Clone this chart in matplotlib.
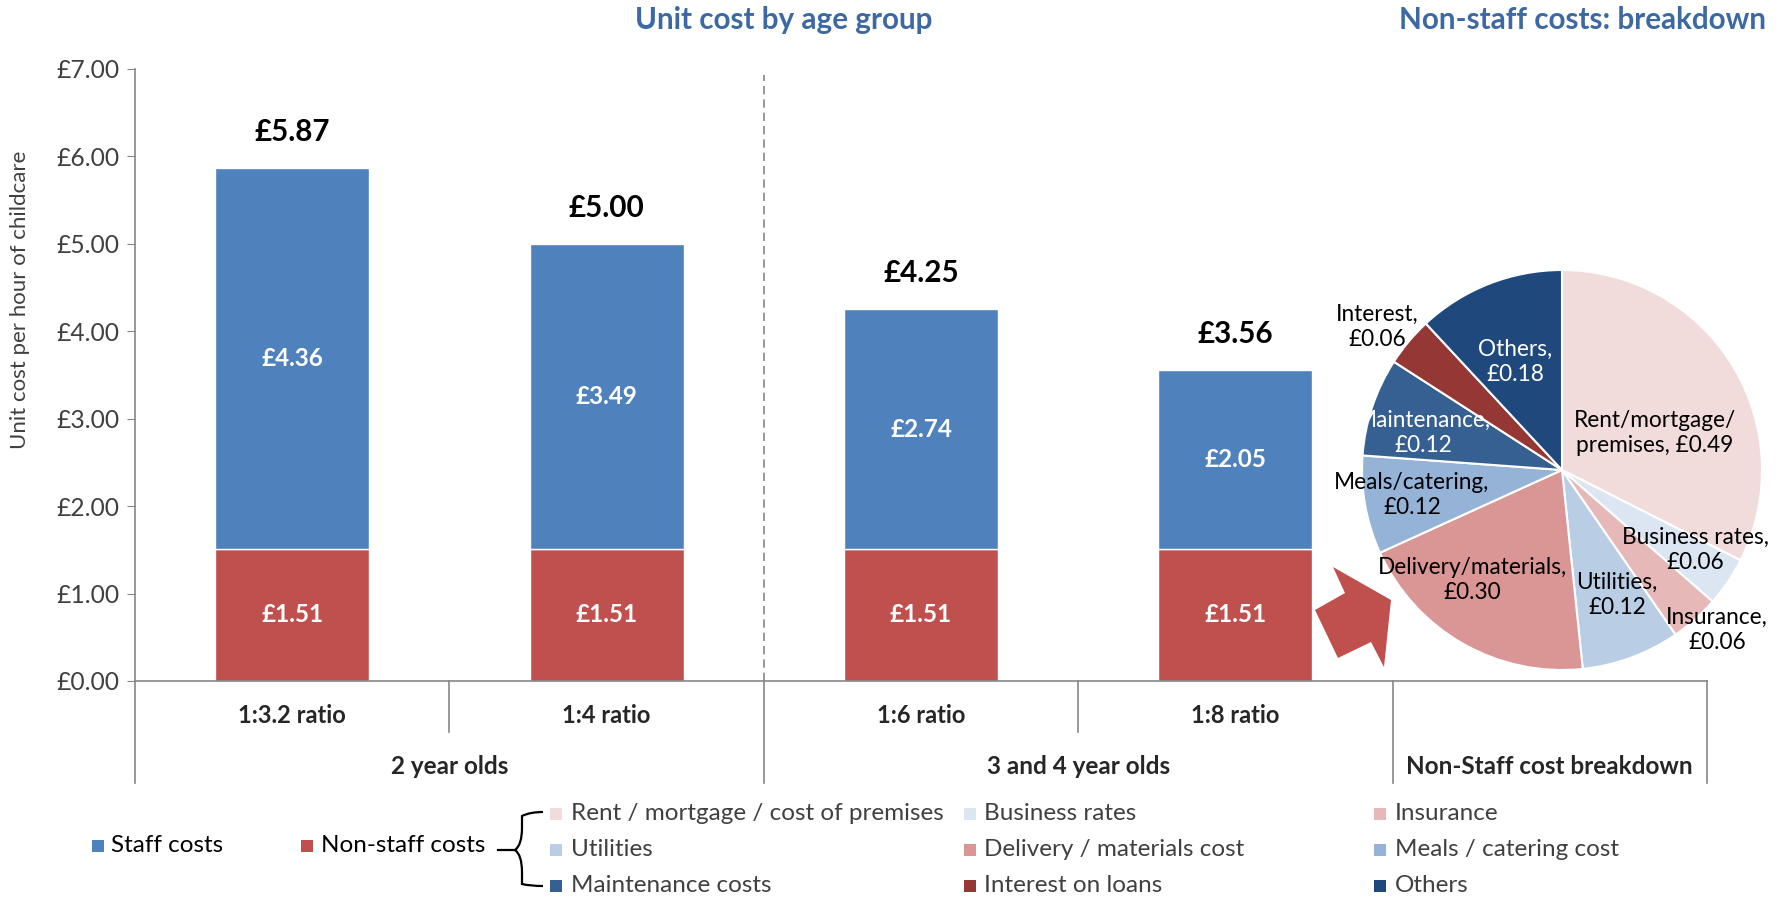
import matplotlib
matplotlib.use("Agg")
import matplotlib.pyplot as plt
from matplotlib.patches import Polygon, Rectangle, PathPatch
from matplotlib.path import Path
from matplotlib.transforms import blended_transform_factory
import numpy as np

plt.rcParams['font.family'] = ['Lato', 'DejaVu Sans']

# bar chart data
ratios = ['1:3.2 ratio', '1:4 ratio', '1:6 ratio', '1:8 ratio']
groups = ['2 year olds', '3 and 4 year olds', 'Non-Staff cost breakdown']
staff = [4.36, 3.49, 2.74, 2.05]
non_staff = [1.51, 1.51, 1.51, 1.51]
totals = [5.87, 5.00, 4.25, 3.56]

# pie data (non-staff breakdown), clockwise from 12 o'clock
pie_labels = ['Rent/mortgage/\npremises, £0.49', 'Business rates,\n£0.06', 'Insurance,\n£0.06',
              'Utilities,\n£0.12', 'Delivery/materials,\n£0.30', 'Meals/catering,\n£0.12',
              'Maintenance,\n£0.12', 'Interest,\n£0.06', 'Others,\n£0.18']
pie_values = [0.49, 0.06, 0.06, 0.12, 0.30, 0.12, 0.12, 0.06, 0.18]
pie_colors = ['#F2DCDB', '#DCE6F2', '#E6B9B8', '#B9CDE5', '#D99694', '#95B3D7',
              '#376092', '#953735', '#1F497D']

legend_names = ['Rent / mortgage / cost of premises', 'Business rates', 'Insurance',
                'Utilities', 'Delivery / materials cost', 'Meals / catering cost',
                'Maintenance costs', 'Interest on loans', 'Others']

STAFF_COL = '#4F81BD'
NONSTAFF_COL = '#C0504D'
TITLE_COL = '#3C69A3'
GREY = '#868686'
TXT = '#404040'

W, H = 1784, 899
fig = plt.figure(figsize=(W / 100, H / 100), dpi=100)

def fx(x):
    return x / W

def fy(y):
    return 1 - y / H

ax = fig.add_axes([fx(135), fy(681), fx(1707) - fx(135), fy(69) - fy(681)])
x = np.arange(len(ratios))
bw = 0.49
ax.bar(x, non_staff, bw, color=NONSTAFF_COL, edgecolor='white', linewidth=1)
ax.bar(x, staff, bw, bottom=non_staff, color=STAFF_COL, edgecolor='white', linewidth=1)

for i in range(len(ratios)):
    ax.text(x[i], non_staff[i] / 2, f'£{non_staff[i]:.2f}', ha='center', va='center',
            color='white', fontsize=17.5, fontweight='bold')
    ax.text(x[i], non_staff[i] + staff[i] / 2, f'£{staff[i]:.2f}', ha='center', va='center',
            color='white', fontsize=17.5, fontweight='bold')
    ax.annotate(f'£{totals[i]:.2f}', (x[i], totals[i]), xytext=(0, 26), textcoords='offset points',
                ha='center', va='center', fontsize=21.3, fontweight='bold', color='black')

ax.set_xlim(-0.5, 4.5)
ax.set_ylim(0, 7)
ax.set_yticks(np.arange(0, 8))
ax.set_yticklabels([f'£{v:.2f}' for v in range(8)])
ax.tick_params(axis='y', direction='out', length=6, color=GREY, labelsize=17.7, labelcolor=TXT, pad=5)
ax.set_xticks([])
for s in ['top', 'right']:
    ax.spines[s].set_visible(False)
for s in ['left', 'bottom']:
    ax.spines[s].set_color(GREY)
    ax.spines[s].set_linewidth(1.2)

ax.axvline(1.5, ymin=0, ymax=0.99, color=GREY, ls=(0, (5, 3)), lw=1.2)

# category axis below the plot
trans = blended_transform_factory(ax.transData, ax.transAxes)
for xs in [0.5, 2.5]:
    ax.plot([xs, xs], [0, -0.083], color=GREY, lw=1.2, transform=trans, clip_on=False)
for xs in [-0.5, 1.5, 3.5, 4.5]:
    ax.plot([xs, xs], [0, -0.167], color=GREY, lw=1.2, transform=trans, clip_on=False)
for i, r in enumerate(ratios):
    ax.text(x[i], -0.057, r, transform=trans, ha='center', va='center',
            fontsize=17, fontweight='bold', color='#262626')
for gx, g in zip([0.5, 2.5, 4.0], groups):
    ax.text(gx, -0.139, g, transform=trans, ha='center', va='center',
            fontsize=17.5, fontweight='bold', color='#262626')

fig.text(fx(20), fy(300), 'Unit cost per hour of childcare', rotation=90, ha='center', va='center',
         fontsize=16, color=TXT)
fig.text(fx(784), fy(20), 'Unit cost by age group', ha='center', va='center',
         fontsize=21.3, fontweight='bold', color=TITLE_COL)
fig.text(fx(1766), fy(20), 'Non-staff costs: breakdown', ha='right', va='center',
         fontsize=21.3, fontweight='bold', color=TITLE_COL)

# pie of the non-staff costs
cx, cy, r = 1562, 470, 200
pax = fig.add_axes([fx(cx - r), fy(cy + r), 2 * r / W, 2 * r / H])
pax.pie(pie_values, colors=pie_colors, startangle=90, counterclock=False,
        wedgeprops=dict(edgecolor='white', linewidth=1.5))
pax.set_xlim(-1, 1)
pax.set_ylim(-1, 1)
pax.axis('off')

label_px = [(1655, 433), (1695, 550), (1717, 630), (1617, 595), (1472, 580),
            (1412, 495), (1423, 433), (1377, 327), (1515, 362)]
label_col = ['black'] * 6 + ['white', 'black', 'white']
for lab, (px, py), c in zip(pie_labels, label_px, label_col):
    pax.text((px - cx) / r, (cy - py) / r, lab, ha='center', va='center',
             fontsize=16.3, color=c, linespacing=1.25, clip_on=False)

# block arrow pointing from the bars to the pie
arrow_px = [(1333, 567), (1345, 593), (1315, 610), (1338, 658), (1371, 642), (1384, 667), (1391, 600)]
fig.patches.append(Polygon([(fx(a), fy(b)) for a, b in arrow_px], closed=True,
                           facecolor=NONSTAFF_COL, edgecolor='none', transform=fig.transFigure))

# legend
sq = 12
def swatch(xp, yp, col):
    fig.patches.append(Rectangle((fx(xp - sq / 2), fy(yp + sq / 2)), sq / W, sq / H,
                                 facecolor=col, edgecolor='none', transform=fig.transFigure))

swatch(98, 846, STAFF_COL)
fig.text(fx(111), fy(846), 'Staff costs', va='center', fontsize=17.5, color='black')
swatch(307, 846, NONSTAFF_COL)
fig.text(fx(321), fy(846), 'Non-staff costs', va='center', fontsize=17.5, color='black')

rows = [814, 850, 886]
cols = [(556, 571), (970, 984), (1380, 1395)]
for k, name in enumerate(legend_names):
    sx, tx = cols[k % 3]
    yp = rows[k // 3]
    swatch(sx, yp, pie_colors[k])
    fig.text(fx(tx), fy(yp), name, va='center', fontsize=17.5, color=TXT)

# brace joining non-staff costs to its breakdown
bx = [(543, 812), (530, 812), (522, 816), (522, 828), (522, 845), (515, 850),
      (522, 855), (522, 872), (522, 884), (530, 886), (543, 886)]
codes = [Path.MOVETO, Path.CURVE3, Path.CURVE3, Path.LINETO, Path.CURVE3, Path.CURVE3,
         Path.CURVE3, Path.CURVE3, Path.LINETO, Path.CURVE3, Path.CURVE3]
brace = Path([(fx(a), fy(b)) for a, b in bx], codes)
fig.patches.append(PathPatch(brace, facecolor='none', edgecolor='black', lw=1.6,
                             transform=fig.transFigure))
fig.lines.append(plt.Line2D([fx(498), fx(515)], [fy(850), fy(850)], color='black', lw=1.6,
                            transform=fig.transFigure))

fig.savefig('out.png', dpi=100)
